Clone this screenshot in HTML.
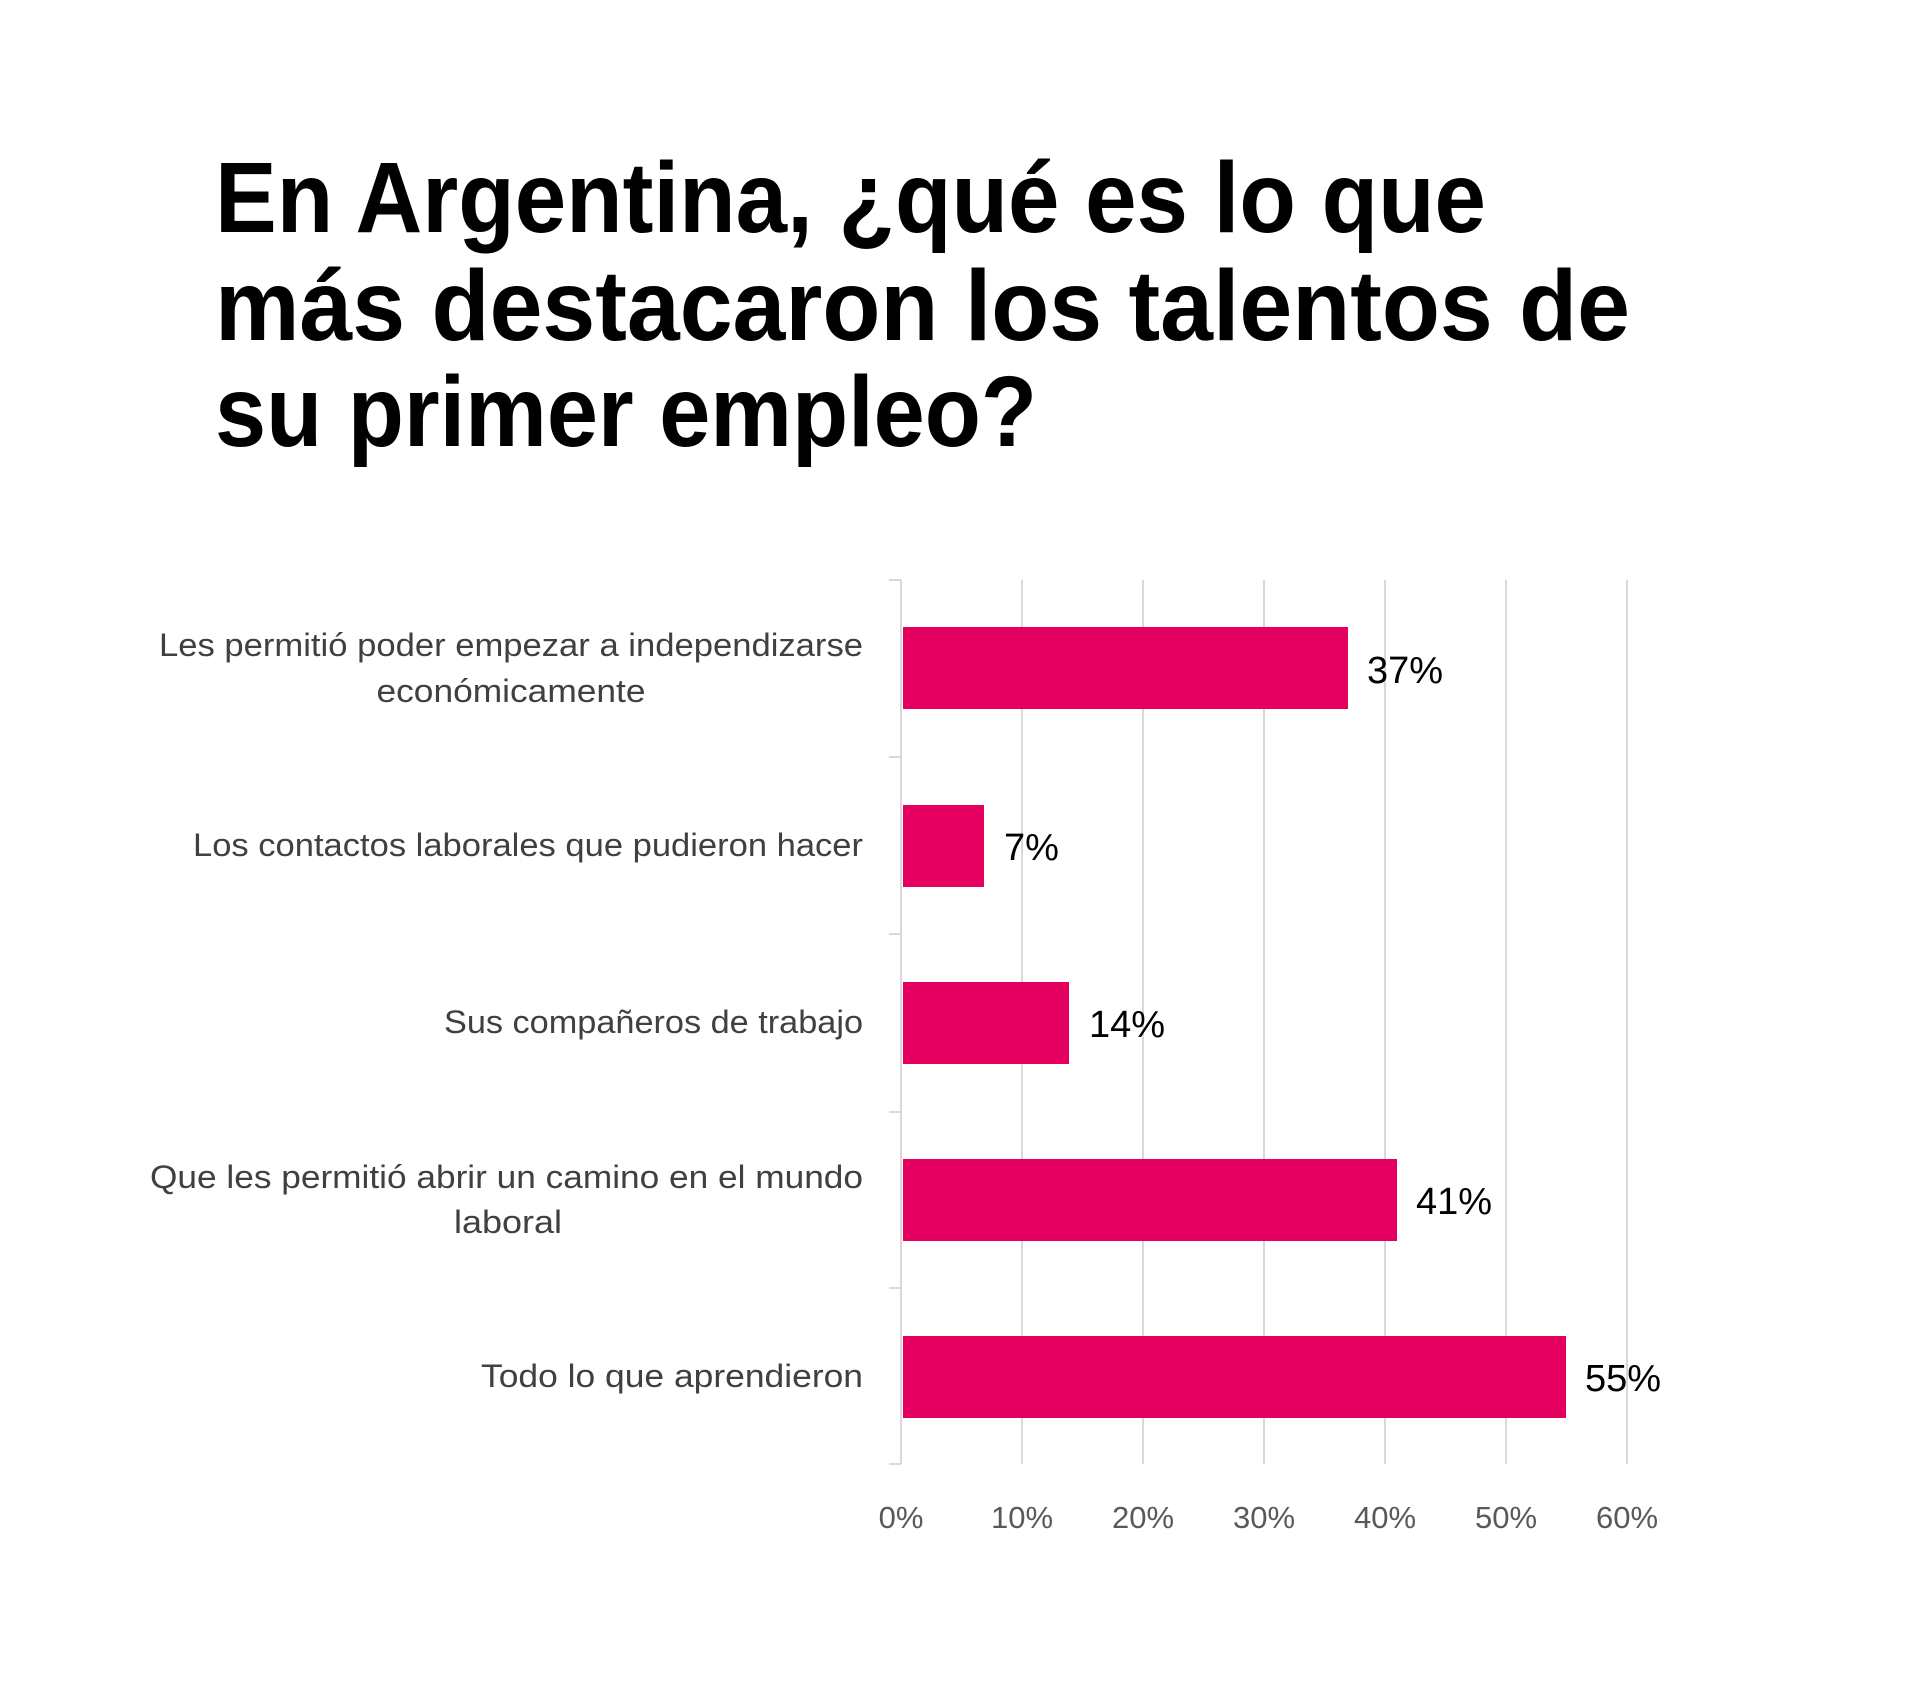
<!DOCTYPE html>
<html><head><meta charset="utf-8"><style>
html,body{margin:0;padding:0;background:#fff;}
svg{display:block;}
</style></head><body>
<svg width="1920" height="1691" viewBox="0 0 1920 1691" xmlns="http://www.w3.org/2000/svg">
<rect width="1920" height="1691" fill="#fff"/>
<g font-family="Liberation Sans, sans-serif" font-weight="bold" font-size="100" fill="#000">
<text x="215" y="232" textLength="1271" lengthAdjust="spacingAndGlyphs">En Argentina, ¿qué es lo que</text>
<text x="215" y="340" textLength="1415" lengthAdjust="spacingAndGlyphs">más destacaron los talentos de</text>
<text x="215" y="446" textLength="822" lengthAdjust="spacingAndGlyphs">su primer empleo?</text>
</g>
<g stroke="#d9d9d9" stroke-width="2">
<line x1="1022" y1="580" x2="1022" y2="1464"/>
<line x1="1143" y1="580" x2="1143" y2="1464"/>
<line x1="1264" y1="580" x2="1264" y2="1464"/>
<line x1="1385" y1="580" x2="1385" y2="1464"/>
<line x1="1506" y1="580" x2="1506" y2="1464"/>
<line x1="1627" y1="580" x2="1627" y2="1464"/>
<line x1="901" y1="580" x2="901" y2="1464"/>
<line x1="889" y1="580" x2="901" y2="580"/>
<line x1="889" y1="757" x2="901" y2="757"/>
<line x1="889" y1="934" x2="901" y2="934"/>
<line x1="889" y1="1112" x2="901" y2="1112"/>
<line x1="889" y1="1288" x2="901" y2="1288"/>
<line x1="889" y1="1464" x2="901" y2="1464"/>
</g>
<g fill="#e5005f">
<rect x="903" y="627" width="445" height="82"/>
<rect x="903" y="805" width="81" height="82"/>
<rect x="903" y="982" width="166" height="82"/>
<rect x="903" y="1159" width="494" height="82"/>
<rect x="903" y="1336" width="663" height="82"/>
</g>
<g font-family="Liberation Sans, sans-serif" font-size="38" fill="#000">
<text x="1367" y="683">37%</text>
<text x="1004" y="860">7%</text>
<text x="1089" y="1037">14%</text>
<text x="1416" y="1214">41%</text>
<text x="1585" y="1391">55%</text>
</g>
<g font-family="Liberation Sans, sans-serif" font-size="31" fill="#595959" text-anchor="middle">
<text x="901" y="1528">0%</text>
<text x="1022" y="1528">10%</text>
<text x="1143" y="1528">20%</text>
<text x="1264" y="1528">30%</text>
<text x="1385" y="1528">40%</text>
<text x="1506" y="1528">50%</text>
<text x="1627" y="1528">60%</text>
</g>
<g font-family="Liberation Sans, sans-serif" font-size="32" fill="#404040" text-anchor="end">
<text x="863" y="656" textLength="704" lengthAdjust="spacingAndGlyphs">Les permitió poder empezar a independizarse</text>
<text x="511" y="702" text-anchor="middle" textLength="269" lengthAdjust="spacingAndGlyphs">económicamente</text>
<text x="863" y="856" textLength="670" lengthAdjust="spacingAndGlyphs">Los contactos laborales que pudieron hacer</text>
<text x="863" y="1033" textLength="419" lengthAdjust="spacingAndGlyphs">Sus compañeros de trabajo</text>
<text x="863" y="1188" textLength="713" lengthAdjust="spacingAndGlyphs">Que les permitió abrir un camino en el mundo</text>
<text x="508" y="1233" text-anchor="middle" textLength="108" lengthAdjust="spacingAndGlyphs">laboral</text>
<text x="863" y="1387" textLength="382" lengthAdjust="spacingAndGlyphs">Todo lo que aprendieron</text>
</g>
</svg>
</body></html>
